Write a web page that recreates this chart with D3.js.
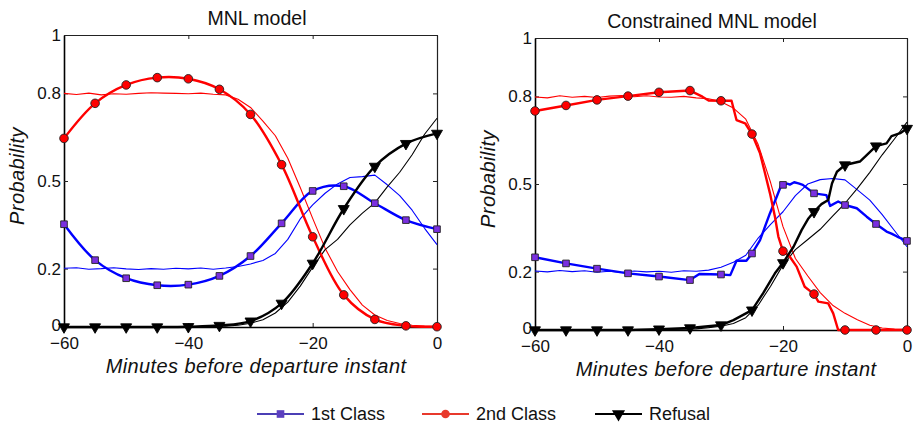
<!DOCTYPE html>
<html>
<head>
<meta charset="utf-8">
<script src="https://cdn.jsdelivr.net/npm/d3@7"></script>
<style>
  html, body { margin: 0; padding: 0; background: #fff; }
  svg { display: block; }
</style>
</head>
<body>
<svg id="chart" width="916" height="428"></svg>
<script>
// ---- axis ticks ----
const xTicks = [-60, -40, -20, 0];
const xTickLabels = ["\u221260", "\u221240", "\u221220", "0"];
const yTicks = [0, 0.2, 0.5, 0.8, 1];
const yTickLabels = ["0", "0.2", "0.5", "0.8", "1"];

// ---- MNL model (smooth model curves, sampled every 5 minutes) ----
const markerMinutes = [-60, -55, -50, -45, -40, -35, -30, -25, -20, -15, -10, -5, 0];
const mnlFirst   = [0.352, 0.229, 0.167, 0.143, 0.145, 0.175, 0.243, 0.355, 0.466, 0.482, 0.424, 0.366, 0.335];
const mnlSecond  = [0.646, 0.766, 0.829, 0.854, 0.850, 0.814, 0.728, 0.556, 0.309, 0.110, 0.026, 0.004, 0.001];
const mnlRefusal = [0.000, 0.000, 0.000, 0.000, 0.001, 0.005, 0.020, 0.081, 0.218, 0.405, 0.550, 0.628, 0.663];

// ---- observed shares (thin lines), every 2 minutes ----
const obsMinutes = [-60, -58, -56, -54, -52, -50, -48, -46, -44, -42, -40, -38, -36, -34, -32, -30,
                    -28, -26, -24, -22, -20, -18, -16, -14, -12, -10, -8, -6, -4, -2, 0];
const obsFirstL   = [0.201, 0.203, 0.198, 0.200, 0.203, 0.199, 0.197, 0.200, 0.198, 0.201, 0.199, 0.202, 0.198, 0.202, 0.207, 0.216,
                     0.228, 0.252, 0.300, 0.370, 0.418, 0.458, 0.490, 0.512, 0.515, 0.520, 0.487, 0.450, 0.400, 0.338, 0.282];
const obsSecondL  = [0.800, 0.796, 0.801, 0.795, 0.799, 0.797, 0.800, 0.802, 0.801, 0.800, 0.799, 0.801, 0.797, 0.795, 0.780, 0.752,
                     0.705, 0.655, 0.578, 0.478, 0.372, 0.270, 0.190, 0.128, 0.075, 0.041, 0.022, 0.012, 0.006, 0.003, 0.002];
const obsRefusalL = [0.000, 0.000, 0.001, 0.000, 0.001, 0.001, 0.001, 0.001, 0.001, 0.001, 0.002, 0.002, 0.003, 0.003, 0.006, 0.013,
                     0.025, 0.048, 0.085, 0.140, 0.205, 0.265, 0.300, 0.350, 0.390, 0.425, 0.480, 0.530, 0.590, 0.660, 0.715];

const obsFirstR   = [0.202, 0.199, 0.204, 0.200, 0.203, 0.198, 0.201, 0.197, 0.202, 0.199, 0.201, 0.198, 0.203, 0.201, 0.205, 0.215,
                     0.232, 0.256, 0.315, 0.362, 0.405, 0.460, 0.500, 0.515, 0.519, 0.514, 0.480, 0.445, 0.395, 0.340, 0.285];
const obsSecondR  = [0.798, 0.795, 0.802, 0.797, 0.800, 0.796, 0.801, 0.803, 0.799, 0.802, 0.798, 0.797, 0.800, 0.795, 0.792, 0.782,
                     0.760, 0.722, 0.635, 0.505, 0.354, 0.245, 0.185, 0.128, 0.085, 0.057, 0.035, 0.016, 0.007, 0.003, 0.002];
const obsRefusalR = [0.000, 0.000, 0.001, 0.000, 0.001, 0.000, 0.001, 0.001, 0.001, 0.001, 0.002, 0.002, 0.003, 0.004, 0.008, 0.013,
                     0.022, 0.042, 0.085, 0.150, 0.223, 0.275, 0.310, 0.345, 0.390, 0.434, 0.485, 0.540, 0.600, 0.655, 0.712];

// ---- Constrained MNL model (step-like curves) ----
const cFirstMinutes = [-60, -55, -50, -45, -40, -35, -33.5, -30, -28.5, -27.5, -25.9, -25, -23.7, -22.1, -21, -20.3, -20,
                       -19.3, -18.9, -18.2, -17.5, -16.8, -15, -13, -12.4, -11.1, -10, -8.1, -6.5, -5, -3.3, -2.5, -1.6, 0];
const cFirstValues  = [0.249, 0.228, 0.210, 0.194, 0.183, 0.171, 0.192, 0.190, 0.188, 0.237, 0.237, 0.262, 0.308, 0.400, 0.457, 0.495, 0.497,
                       0.501, 0.498, 0.506, 0.502, 0.497, 0.468, 0.462, 0.425, 0.440, 0.428, 0.417, 0.388, 0.363, 0.337, 0.330, 0.320, 0.305];
const cSecondMinutes = [-60, -55, -50, -45, -40, -35, -33, -32, -30, -28.3, -27.5, -26.1, -25, -23.7, -22.9, -22.1, -21.3, -20.75,
                        -20, -18.9, -17.8, -16.5, -15, -14.3, -12.7, -11.9, -11.1, -10, -5, 0];
const cSecondValues  = [0.750, 0.769, 0.788, 0.801, 0.814, 0.820, 0.799, 0.786, 0.785, 0.785, 0.719, 0.708, 0.671, 0.605, 0.537, 0.468, 0.388, 0.320,
                        0.270, 0.251, 0.217, 0.148, 0.123, 0.097, 0.091, 0.057, 0.000, 0.000, 0.000, 0.000];
const cRefusalMinutes = [-60, -55, -50, -45, -40, -35, -30, -28, -25, -23.2, -21.3, -20, -18.3, -17, -15.9, -15, -13.8, -12.7,
                         -12.1, -11.3, -10, -7.6, -6.5, -5, -3.3, -2.5, -1.1, 0];
const cRefusalValues  = [0.000, 0.000, 0.000, 0.000, 0.003, 0.007, 0.017, 0.034, 0.068, 0.126, 0.194, 0.230, 0.285, 0.342, 0.382, 0.405, 0.431, 0.445,
                         0.502, 0.542, 0.565, 0.577, 0.599, 0.630, 0.639, 0.664, 0.674, 0.690];

const seriesNames = ["1st Class", "2nd Class", "Refusal"];

// ---- styles ----
const lineColor = { first: "#0000ff", second: "#ff0000", refusal: "#000000" };
const markerFill = { first: "#7a2fe0", second: "#ff0000", refusal: "#000000" };
const markerShape = { first: d3.symbolSquare, second: d3.symbolCircle, refusal: d3.symbolTriangle };
const markerSize = { first: 44, second: 58, refusal: 52 };
const tickFont = "'Liberation Sans', Arial, Helvetica, sans-serif";
const titleFont = "'Liberation Sans', Arial, Helvetica, sans-serif";

const svg = d3.select("#chart");

function pairs(ts, vs) { return ts.map((t, i) => [t, vs[i]]); }

const panels = [
  {
    title: "MNL model", titleX: 257, labelX: 256,
    left: 64, right: 437, top: 35, bottom: 327,
    curve: d3.curveCatmullRom.alpha(0.5),
    model: {
      first: pairs(markerMinutes, mnlFirst),
      second: pairs(markerMinutes, mnlSecond),
      refusal: pairs(markerMinutes, mnlRefusal)
    },
    observed: {
      first: pairs(obsMinutes, obsFirstL),
      second: pairs(obsMinutes, obsSecondL),
      refusal: pairs(obsMinutes, obsRefusalL)
    }
  },
  {
    title: "Constrained MNL model", titleX: 712, labelX: 726,
    left: 535, right: 907, top: 38, bottom: 330,
    curve: d3.curveLinear,
    model: {
      first: pairs(cFirstMinutes, cFirstValues),
      second: pairs(cSecondMinutes, cSecondValues),
      refusal: pairs(cRefusalMinutes, cRefusalValues)
    },
    observed: {
      first: pairs(obsMinutes, obsFirstR),
      second: pairs(obsMinutes, obsSecondR),
      refusal: pairs(obsMinutes, obsRefusalR)
    }
  }
];

function styleAxisText(sel) {
  sel.attr("font-family", tickFont).attr("font-size", 17);
  sel.selectAll("text").attr("fill", "#111");
  sel.selectAll(".tick line").attr("stroke", "#222").attr("stroke-width", 1);
}

panels.forEach(p => {
  const x = d3.scaleLinear().domain([-60, 0]).range([p.left, p.right]);
  const y = d3.scaleLinear().domain([0, 1]).range([p.bottom, p.top]);
  const g = svg.append("g");

  // axes with inward ticks, MATLAB box style
  const bottomAxis = g.append("g").attr("transform", `translate(0,${p.bottom})`)
    .call(d3.axisBottom(x).tickValues(xTicks).tickFormat((d, i) => xTickLabels[i]).tickSize(-4).tickSizeOuter(0).tickPadding(10));
  styleAxisText(bottomAxis);
  bottomAxis.select(".domain").attr("stroke", "#000").attr("stroke-width", 1.6);

  const topAxis = g.append("g").attr("transform", `translate(0,${p.top})`)
    .call(d3.axisTop(x).tickValues(xTicks).tickFormat(() => "").tickSize(-4).tickSizeOuter(0));
  styleAxisText(topAxis);
  topAxis.select(".domain").attr("stroke", "#222").attr("stroke-width", 1);

  const leftAxis = g.append("g").attr("transform", `translate(${p.left},0)`)
    .call(d3.axisLeft(y).tickValues(yTicks).tickFormat((d, i) => yTickLabels[i]).tickSize(-4).tickSizeOuter(0).tickPadding(3));
  styleAxisText(leftAxis);
  leftAxis.select(".domain").attr("stroke", "#000").attr("stroke-width", 1.6);
  // keep the "0" label just clear of the x tick labels underneath
  leftAxis.selectAll(".tick").filter(d => d === 0).select("text").attr("dy", "0.2em");

  const rightAxis = g.append("g").attr("transform", `translate(${p.right},0)`)
    .call(d3.axisRight(y).tickValues(yTicks).tickFormat(() => "").tickSize(-4).tickSizeOuter(0));
  styleAxisText(rightAxis);
  rightAxis.select(".domain").attr("stroke", "#222").attr("stroke-width", 1.2);

  // observed shares: thin lines
  const thin = d3.line().x(d => x(d[0])).y(d => y(d[1])).curve(d3.curveLinear);
  ["first", "second", "refusal"].forEach(k => {
    g.append("path").datum(p.observed[k])
      .attr("d", thin).attr("fill", "none")
      .attr("stroke", lineColor[k]).attr("stroke-width", 1.1)
      .attr("stroke-linejoin", "round");
  });

  // model predictions: thick lines
  const thick = d3.line().x(d => x(d[0])).y(d => y(d[1])).curve(p.curve);
  ["first", "second", "refusal"].forEach(k => {
    g.append("path").datum(p.model[k])
      .attr("d", thick).attr("fill", "none")
      .attr("stroke", lineColor[k]).attr("stroke-width", 2.4)
      .attr("stroke-linejoin", "round");
  });

  // markers every 5 minutes
  ["first", "second", "refusal"].forEach(k => {
    const pts = p.model[k].filter(d => d[0] % 5 === 0);
    g.selectAll(null).data(pts).enter().append("path")
      .attr("d", d3.symbol().type(markerShape[k]).size(markerSize[k]))
      .attr("transform", d => `translate(${x(d[0])},${y(d[1])})` + (k === "refusal" ? " rotate(180)" : ""))
      .attr("fill", markerFill[k])
      .attr("stroke", k === "refusal" ? "#000" : "#222")
      .attr("stroke-width", 0.9);
  });

  // titles and axis labels
  svg.append("text")
    .attr("x", p.titleX).attr("y", p.top - 10)
    .attr("text-anchor", "middle")
    .attr("font-family", titleFont).attr("font-size", 19.5).attr("fill", "#111")
    .text(p.title);

  svg.append("text")
    .attr("x", p.labelX).attr("y", p.bottom + 46)
    .attr("text-anchor", "middle")
    .attr("font-family", tickFont).attr("font-style", "italic").attr("font-size", 20)
    .attr("letter-spacing", 0.4).attr("fill", "#111")
    .text("Minutes before departure instant");

  svg.append("text")
    .attr("transform", `translate(${p.left - 40},${(p.top + p.bottom) / 2 - 5}) rotate(-90)`)
    .attr("text-anchor", "middle")
    .attr("font-family", tickFont).attr("font-style", "italic").attr("font-size", 20)
    .attr("letter-spacing", 0.4).attr("fill", "#111")
    .text("Probability");
});

// ---- legend ----
const legendItems = [
  { key: "first", x: 257, line: "#4b3fb5", fill: "#5b3fbf" },
  { key: "second", x: 422, line: "#e8392c", fill: "#e8392c" },
  { key: "refusal", x: 595, line: "#000000", fill: "#000000" }
];
const legendY = 414;
const legend = svg.append("g");
legendItems.forEach((it, i) => {
  legend.append("line")
    .attr("x1", it.x).attr("x2", it.x + 47)
    .attr("y1", legendY).attr("y2", legendY)
    .attr("stroke", it.line).attr("stroke-width", 2);
  legend.append("path")
    .attr("d", d3.symbol().type(markerShape[it.key]).size(it.key === "refusal" ? 75 : 58))
    .attr("transform", `translate(${it.x + 23.5},${legendY})` + (it.key === "refusal" ? " rotate(180)" : ""))
    .attr("fill", it.fill);
  legend.append("text")
    .attr("x", it.x + 54).attr("y", legendY + 6)
    .attr("font-family", titleFont).attr("font-size", 18).attr("fill", "#111")
    .text(seriesNames[i]);
});
</script>
</body>
</html>
